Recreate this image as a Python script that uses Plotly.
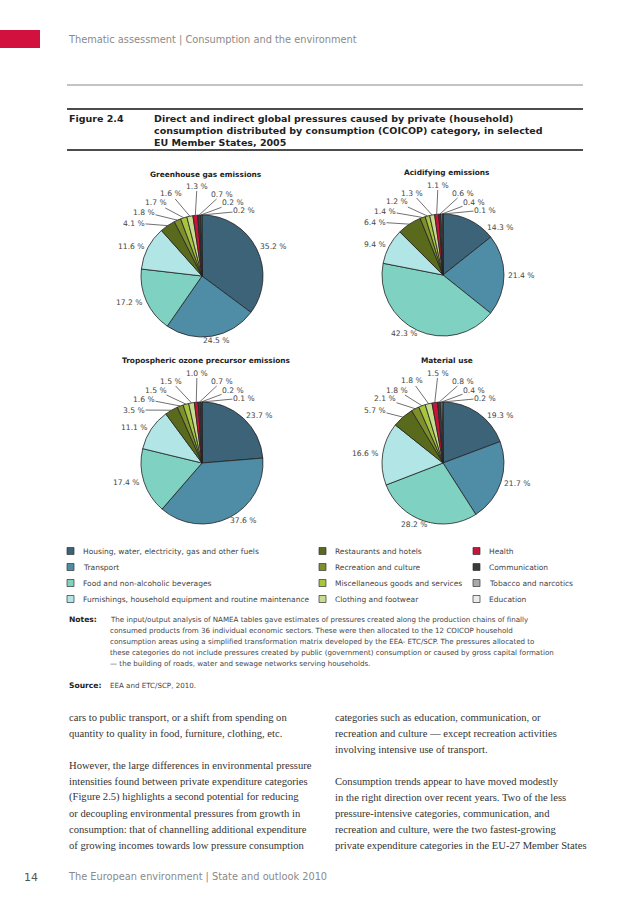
import math
import plotly.graph_objects as go

W, H = 638, 903

# ---------------- data ----------------
categories = [
    "Housing, water, electricity, gas and other fuels",
    "Transport",
    "Food and non-alcoholic beverages",
    "Furnishings, household equipment and routine maintenance",
    "Restaurants and hotels",
    "Recreation and culture",
    "Miscellaneous goods and services",
    "Clothing and footwear",
    "Health",
    "Communication",
    "Tobacco and narcotics",
    "Education",
]
colors = ["#3d6378", "#4f8ca6", "#7fd2c1", "#b2e5e6", "#5a6a1d", "#7e8f2c",
          "#a7c53d", "#c8dc8e", "#c8133c", "#3a3a3a", "#a9a9a9", "#ececec"]

ghg = [35.2, 24.5, 17.2, 11.6, 4.1, 1.8, 1.7, 1.6, 1.3, 0.7, 0.2, 0.2]
acidifying = [14.3, 21.4, 42.3, 9.4, 6.4, 1.4, 1.2, 1.3, 1.1, 0.6, 0.4, 0.1]
ozone = [23.7, 37.6, 17.4, 11.1, 3.5, 1.6, 1.5, 1.5, 1.0, 0.7, 0.2, 0.1]
material = [19.3, 21.7, 28.2, 16.6, 5.7, 2.1, 1.8, 1.8, 1.5, 0.8, 0.4, 0.2]

pie_titles = ["Greenhouse gas emissions", "Acidifying emissions",
              "Tropospheric ozone precursor emissions", "Material use"]
pie_values = [ghg, acidifying, ozone, material]

header = "Thematic assessment | Consumption and the environment"
fig_label = "Figure 2.4"
fig_title = ["Direct and indirect global pressures caused by private (household)",
             "consumption distributed by consumption (COICOP) category, in selected",
             "EU Member States, 2005"]
notes = ["The input/output analysis of NAMEA tables gave estimates of pressures created along the production chains of finally",
         "consumed products from 36 individual economic sectors. These were then allocated to the 12 COICOP household",
         "consumption areas using a simplified transformation matrix developed by the EEA- ETC/SCP. The pressures allocated to",
         "these categories do not include pressures created by public (government) consumption or caused by gross capital formation",
         "\u2014 the building of roads, water and sewage networks serving households."]
source = "EEA and ETC/SCP, 2010."
body_left = ["cars to public transport, or a shift from spending on",
             "quantity to quality in food, furniture, clothing, etc.",
             "",
             "However, the large differences in environmental pressure",
             "intensities found between private expenditure categories",
             "(Figure 2.5) highlights a second potential for reducing",
             "or decoupling environmental pressures from growth in",
             "consumption: that of channelling additional expenditure",
             "of growing incomes towards low pressure consumption"]
body_right = ["categories such as education, communication, or",
              "recreation and culture \u2014 except recreation activities",
              "involving intensive use of transport.",
              "",
              "Consumption trends appear to have moved modestly",
              "in the right direction over recent years. Two of the less",
              "pressure-intensive categories, communication, and",
              "recreation and culture, were the two fastest-growing",
              "private expenditure categories in the EU-27 Member States"]
page_no = "14"
footer = "The European environment | State and outlook 2010"

# ---------------- layout helpers ----------------
SANS = "DejaVu Sans"
SERIF = "Liberation Serif"


def px(x):
    return x / W


def py(y):
    return 1 - y / H


annotations = []
shapes = []


def text(x, y, s, size, color="#333", weight="normal", family=SANS, anchor="left"):
    annotations.append(dict(x=px(x), y=py(y), xref="paper", yref="paper", text=s,
                            showarrow=False, xanchor=anchor, yanchor="middle",
                            font=dict(size=size, color=color, family=family, weight=weight)))


def hline(x0, x1, y, color, width):
    shapes.append(dict(type="line", xref="paper", yref="paper", x0=px(x0), x1=px(x1),
                       y0=py(y), y1=py(y), line=dict(color=color, width=width)))


LABEL_FS = 7.6
LABEL_COLOR = "#444"


def label_halfwidth(s):
    w = sum({".": 0.318, " ": 0.318, "%": 0.95}.get(ch, 0.636) for ch in s)
    return w * LABEL_FS / 2


# label fan layout for the thin slices (offsets from the pie's top point)
LEFT_FAN = [(-5, -29), (-31, -21), (-46, -12), (-58, -3), (-68, 8)]   # Health ... Restaurants
RIGHT_FAN = [(20, -21), (31, -12), (42, -4)]                          # Communication ... Education
MIN_RIGHT_LABEL_DY = 13   # big labels on the upper right stay below the right fan

fig = go.Figure()

PIE_POS = [(202, 276), (443, 275), (202, 463), (443, 463)]
R = 61
for (cx, cy), vals, title in zip(PIE_POS, pie_values, pie_titles):
    fig.add_trace(go.Pie(
        labels=categories, values=vals, sort=False, direction="clockwise", rotation=0,
        marker=dict(colors=colors, line=dict(color="#222", width=0.8)),
        textinfo="none",
        domain=dict(x=[px(cx - R), px(cx + R)], y=[py(cy + R), py(cy - R)]),
        showlegend=False, hoverinfo="label+value", automargin=False,
    ))
    text(cx + 4, cy - 102, title, 7.4, "#222", "bold", anchor="center")

    total = sum(vals)
    cum = 0.0
    top = cy - R
    for i, v in enumerate(vals):
        theta = 2 * math.pi * (cum + v / 2) / total
        cum += v
        s = f"{v:.1f} %"
        sn, cs = math.sin(theta), math.cos(theta)
        if i < 4:
            hw = label_halfwidth(s)
            ax_ = cx + (R + 4) * sn
            ay_ = cy - (R + 4) * cs
            if sn > 0 and ay_ < top + MIN_RIGHT_LABEL_DY:
                ay_ = top + MIN_RIGHT_LABEL_DY
                ax_ = cx + math.sqrt((R + 4) ** 2 - (ay_ - cy) ** 2)
                shift = hw
            else:
                shift = max(-1.0, min(1.0, sn / 0.5)) * hw
            annotations.append(dict(
                x=px(ax_ + shift), y=py(ay_), xref="paper", yref="paper", text=s,
                showarrow=False, xanchor="center", yanchor="middle",
                font=dict(size=LABEL_FS, color=LABEL_COLOR, family=SANS)))
        else:
            hx, hy = cx + R * sn, cy - R * cs
            if i <= 8:
                dx, dy = LEFT_FAN[8 - i]
            else:
                dx, dy = RIGHT_FAN[i - 9]
            lx, ly = cx + dx, top + dy
            annotations.append(dict(
                x=px(hx), y=py(hy), xref="paper", yref="paper", text=s,
                showarrow=True, arrowhead=0, arrowwidth=0.7, arrowcolor="#333",
                ax=lx - hx, ay=ly - hy, standoff=0, startstandoff=0,
                xanchor="center", yanchor="middle", borderpad=0,
                font=dict(size=LABEL_FS, color=LABEL_COLOR, family=SANS)))

# header
shapes.append(dict(type="rect", xref="paper", yref="paper", x0=px(0), x1=px(40),
                   y0=py(48), y1=py(30), fillcolor="#d3113e", line=dict(width=0)))
text(66, 40, header, 9.8, "#8a8a8a")
hline(67, 583, 85, "#888", 1)
hline(67, 583, 109, "#111", 1.4)
hline(67, 583, 150, "#111", 1.4)
text(67, 118, fig_label, 9.5, "#222", "bold")
for i, line in enumerate(fig_title):
    text(152, 118 + 12 * i, line, 9.5, "#222", "bold")

# legend (3 columns x 4 rows)
LEG_SW_X = [67, 319, 473]
LEG_ROW_Y = [551, 567, 583, 599]
for i, (cat, col) in enumerate(zip(categories, colors)):
    c, r = divmod(i, 4)
    x0, yc = LEG_SW_X[c], LEG_ROW_Y[r]
    shapes.append(dict(type="rect", xref="paper", yref="paper", x0=px(x0), x1=px(x0 + 7),
                       y0=py(yc + 3.5), y1=py(yc - 3.5), fillcolor=col,
                       line=dict(color="#333", width=0.7)))
    text(x0 + 14, yc, cat, 7.5, "#444")

# notes & source
text(67, 619, "Notes:", 7.6, "#222", "bold")
for i, line in enumerate(notes):
    text(108, 619 + 11 * i, line, 7.1, "#444")
text(67, 685, "Source:", 7.6, "#222", "bold")
text(108, 685, source, 7.1, "#444")

# body text
for i, line in enumerate(body_left):
    if line:
        text(67, 717 + 16 * i, line, 10.6, "#333", family=SERIF)
for i, line in enumerate(body_right):
    if line:
        text(333, 717 + 16 * i, line, 10.6, "#333", family=SERIF)

# footer
text(22, 877, page_no, 11, "#555")
text(66, 877, footer, 9.8, "#8a8a8a")

fig.update_layout(width=W, height=H, margin=dict(l=0, r=0, t=0, b=0),
                  paper_bgcolor="white", plot_bgcolor="white",
                  annotations=annotations, shapes=shapes)
fig.write_html("out.html", config={"displayModeBar": False},
               post_script="document.body.style.margin='0';document.body.style.overflow='hidden';")
